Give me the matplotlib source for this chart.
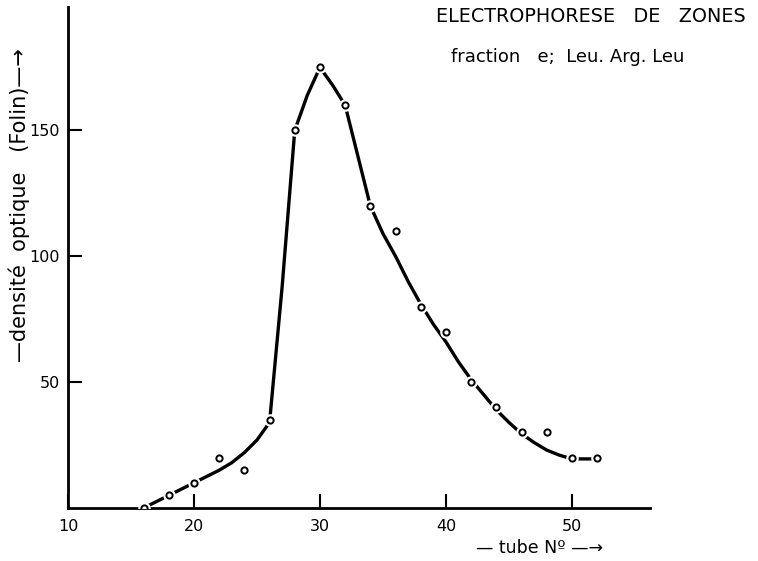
import matplotlib
matplotlib.use("Agg")
import matplotlib.pyplot as plt
import numpy as np

# measured points
tube = [16, 18, 20, 22, 24, 26, 28, 30, 32, 34, 36, 38, 40, 42, 44, 46, 48, 50, 52]
density = [0, 5, 10, 20, 15, 35, 150, 175, 160, 120, 110, 80, 70, 50, 40, 30, 30, 20, 20]

# hand-drawn fitted curve
curve_x = [16, 17, 18, 19, 20, 21, 22, 23, 24, 25, 26, 27, 28, 29, 30, 31, 32, 33, 34, 35, 36, 37, 38, 39, 40, 41, 42, 43, 44, 45, 46, 47, 48, 49, 50, 51, 52]
curve_y = [0, 2.5, 5, 7.5, 10, 12.5, 15, 18, 22, 27, 34, 88, 150, 164, 175, 168, 160, 140, 120, 109, 100, 90, 81, 73, 66, 58, 51, 45, 39, 34, 29.5, 26, 23, 21, 19.5, 19.5, 19.5]

xticks = [10, 20, 30, 40, 50]
yticks = [50, 100, 150]

fig = plt.figure(figsize=(7.58, 5.61), dpi=100)
ax = fig.add_axes([68/758, 53/561, (650-68)/758, (508-7)/561])

ax.plot(curve_x, curve_y, color="black", lw=2.4, zorder=2, solid_capstyle="round")
ax.plot(tube, density, linestyle="none", marker="o", ms=8, mfc="white", mec="white", zorder=3)
ax.plot(tube, density, linestyle="none", marker="o", ms=4.5, mfc="white", mec="black", mew=1.4, zorder=4)

ax.set_xlim(10, 56.2)
ax.set_ylim(0, 199)
for s in ["top", "right"]:
    ax.spines[s].set_visible(False)
for s in ["left", "bottom"]:
    ax.spines[s].set_linewidth(2.0)

ax.set_xticks(xticks)
ax.set_yticks(yticks)
ax.tick_params(axis="x", direction="in", length=10, width=1.5, labelsize=11.5, pad=8)
ax.tick_params(axis="y", direction="in", length=10, width=1.5, labelsize=11.5, pad=6)

fig.text(591/758, 1 - 17/561, "ELECTROPHORESE   DE   ZONES", ha="center", va="center", fontsize=13.8)
fig.text(568/758, 1 - 57/561, "fraction   e;  Leu. Arg. Leu", ha="center", va="center", fontsize=13)

fig.text(19/758, 1 - 205/561, "—densité  optique   (Folin)—→", rotation=90, ha="center", va="center", fontsize=15)
fig.text(540/758, 1 - 548/561, "— tube Nº —→", ha="center", va="center", fontsize=12.5)

fig.savefig("out.png", dpi=100, facecolor="white")
